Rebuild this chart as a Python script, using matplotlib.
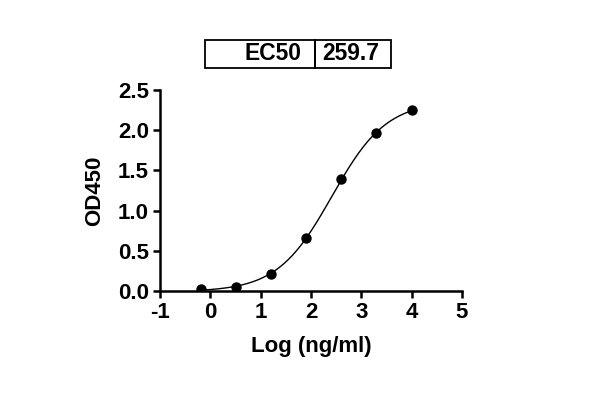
import numpy as np
import matplotlib
matplotlib.use("Agg")
import matplotlib.pyplot as plt
from matplotlib.patches import Rectangle

plt.rcParams['font.family'] = ['Liberation Sans', 'DejaVu Sans']
plt.rcParams['font.weight'] = 'bold'

# data
log_conc = [-0.194, 0.505, 1.204, 1.903, 2.602, 3.301, 4.0]
od450 = [0.02, 0.054, 0.21, 0.66, 1.39, 1.96, 2.25]
ec50 = 259.7
x_ticks = [-1, 0, 1, 2, 3, 4, 5]
y_ticks = [0.0, 0.5, 1.0, 1.5, 2.0, 2.5]

# 4PL fit with EC50 fixed, grid over hill slope, linear solve for bottom/top
x = np.array(log_conc)
y = np.array(od450)
log_ec50 = np.log10(ec50)
best = None
for h in np.linspace(0.5, 2.0, 301):
    s = 1.0 / (1.0 + 10 ** ((log_ec50 - x) * h))
    A = np.column_stack([np.ones_like(s), s])
    coef, *_ = np.linalg.lstsq(A, y, rcond=None)
    err = np.sum((A @ coef - y) ** 2)
    if best is None or err < best[0]:
        best = (err, h, coef)
_, hill, (bottom, span) = best

xf = np.linspace(x[0], x[-1], 300)
yf = bottom + span / (1.0 + 10 ** ((log_ec50 - xf) * hill))

fig = plt.figure(figsize=(6, 4.03), dpi=100)
ax = fig.add_axes([160 / 600, 1 - 291 / 403, 302 / 600, 201 / 403])
ax.plot(xf, yf, color='black', lw=1.0)
ax.plot(x, y, 'o', color='black', ms=6.5)

ax.set_xlim(-1, 5)
ax.set_ylim(0, 2.5)
ax.set_xticks(x_ticks)
ax.set_yticks(y_ticks)
ax.set_xticklabels([str(t) for t in x_ticks])
ax.set_yticklabels([f"{t:.1f}" for t in y_ticks])
for sp in ['top', 'right']:
    ax.spines[sp].set_visible(False)
for sp in ['left', 'bottom']:
    ax.spines[sp].set_linewidth(1.8)
ax.tick_params(width=1.8, length=5, labelsize=16, pad=3)
for lab in ax.get_xticklabels() + ax.get_yticklabels():
    lab.set_fontweight('bold')
ax.set_xlabel('Log (ng/ml)', fontsize=16, fontweight='bold', labelpad=9)
ax.set_ylabel('OD450', fontsize=16, fontweight='bold', labelpad=9)

# EC50 table box
W, H = 600, 403
x0, x1, x2 = 205, 315, 391
y0, y1 = 40, 68
for a, b in [(x0, x1), (x1, x2)]:
    fig.patches.append(Rectangle((a / W, 1 - y1 / H), (b - a) / W, (y1 - y0) / H,
                                 transform=fig.transFigure, fill=False,
                                 edgecolor='black', lw=1.3))
fig.text((x1 - 13) / W, 1 - (y0 + y1) / 2 / H, 'EC50', ha='right', va='center',
         fontsize=16.5, fontweight='bold')
fig.text((x1 + 7) / W, 1 - (y0 + y1) / 2 / H, f'{ec50}', ha='left', va='center',
         fontsize=16.5, fontweight='bold')

fig.savefig('out.png', dpi=100)
